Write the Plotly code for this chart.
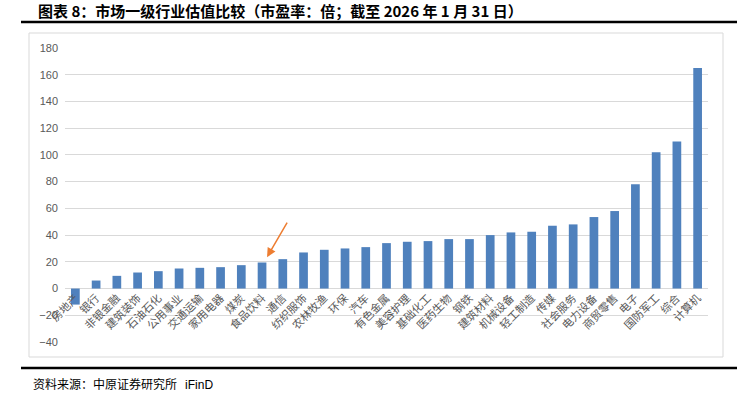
import plotly.graph_objects as go

categories = ["房地产", "银行", "非银金融", "建筑装饰", "石油石化", "公用事业", "交通运输", "家用电器",
              "煤炭", "食品饮料", "通信", "纺织服饰", "农林牧渔", "环保", "汽车", "有色金属", "美容护理",
              "基础化工", "医药生物", "钢铁", "建筑材料", "机械设备", "轻工制造", "传媒", "社会服务",
              "电力设备", "商贸零售", "电子", "国防军工", "综合", "计算机"]
pe_values = [-12, 6, 9.5, 12, 13, 15, 15.5, 16, 17.5, 19.5, 22, 27, 29, 30, 31, 34, 35, 35.5,
             37, 37, 40, 42, 42.5, 47, 48, 53.5, 58, 78, 102, 110, 165]
y_ticks = [-40, -20, 0, 20, 40, 60, 80, 100, 120, 140, 160, 180]

title_text = "图表 8：市场一级行业估值比较（市盈率：倍；截至 2026 年 1 月 31 日）"
source_text = "资料来源：中原证券研究所"
source_tail = "iFinD"

W, H = 751, 395
ML, MR, MT, MB = 65, 43, 48, 53
ymin, ymax = y_ticks[0], y_ticks[-1]
PW, PH = W - ML - MR, H - MT - MB


def px_x(px):
    return (px - ML) / PW


def px_y(py):
    return (H - MB - py) / PH


fig = go.Figure()
fig.add_trace(go.Bar(
    x=list(range(len(categories))), y=pe_values,
    marker=dict(color="#4F81BD", line=dict(width=0)),
    width=0.42,
))

zero_pos = (0 - ymin) / (ymax - ymin)

fig.update_layout(
    width=W, height=H,
    margin=dict(l=ML, r=MR, t=MT, b=MB),
    paper_bgcolor="white", plot_bgcolor="white",
    showlegend=False,
    xaxis=dict(
        range=[-0.5, len(categories) - 0.5],
        tickmode="array", tickvals=list(range(len(categories))), ticktext=categories,
        tickangle=-45,
        tickfont=dict(family="Noto Sans CJK SC", size=11, color="#595959"),
        showgrid=False, showline=False, zeroline=False, ticks="",
        anchor="free", position=zero_pos, automargin=False,
    ),
    yaxis=dict(
        range=[ymin, ymax], tickvals=y_ticks,
        showgrid=True, gridcolor="#D9D9D9", gridwidth=1,
        zeroline=True, zerolinecolor="#D9D9D9", zerolinewidth=1,
        showline=False, ticks="", ticklabelstandoff=6,
        tickfont=dict(family="Liberation Sans, Arial", size=11, color="#595959"),
        automargin=False,
    ),
    font=dict(family="Noto Sans CJK SC"),
)

# frame around chart area
fig.add_shape(type="rect", xref="paper", yref="paper",
              x0=px_x(29), x1=px_x(723), y0=px_y(357), y1=px_y(33),
              line=dict(color="#D9D9D9", width=1), layer="below")

# top and bottom black rules
fig.add_shape(type="line", xref="paper", yref="paper",
              x0=px_x(21), x1=px_x(737), y0=px_y(22), y1=px_y(22),
              line=dict(color="black", width=2.5))
fig.add_shape(type="line", xref="paper", yref="paper",
              x0=px_x(21), x1=px_x(737), y0=px_y(368), y1=px_y(368),
              line=dict(color="black", width=2.5))

# title
fig.add_annotation(text="<b>" + title_text + "</b>", xref="paper", yref="paper",
                   x=px_x(36), y=px_y(11), xanchor="left", yanchor="middle", showarrow=False,
                   font=dict(family="Noto Sans CJK SC", size=15, color="black"))

# source
fig.add_annotation(text=source_text + "   <span style='font-family:Liberation Sans, Arial'>" + source_tail + "</span>",
                   xref="paper", yref="paper",
                   x=px_x(31), y=px_y(383), xanchor="left", yanchor="middle", showarrow=False,
                   font=dict(family="Noto Sans CJK SC", size=12, color="black"))

# orange arrow pointing to 食品饮料
idx = categories.index("食品饮料")
fig.add_annotation(x=idx + 0.24, y=pe_values[idx] + 4, xref="x", yref="y",
                   ax=idx + 1.25, ay=pe_values[idx] + 31, axref="x", ayref="y",
                   showarrow=True, arrowhead=2, arrowsize=1.2, arrowwidth=1.5,
                   arrowcolor="#ED7D31", text="")

fig.write_html("out.html", config={"displayModeBar": False},
               post_script="document.body.style.margin='0';document.body.style.overflow='hidden';")
